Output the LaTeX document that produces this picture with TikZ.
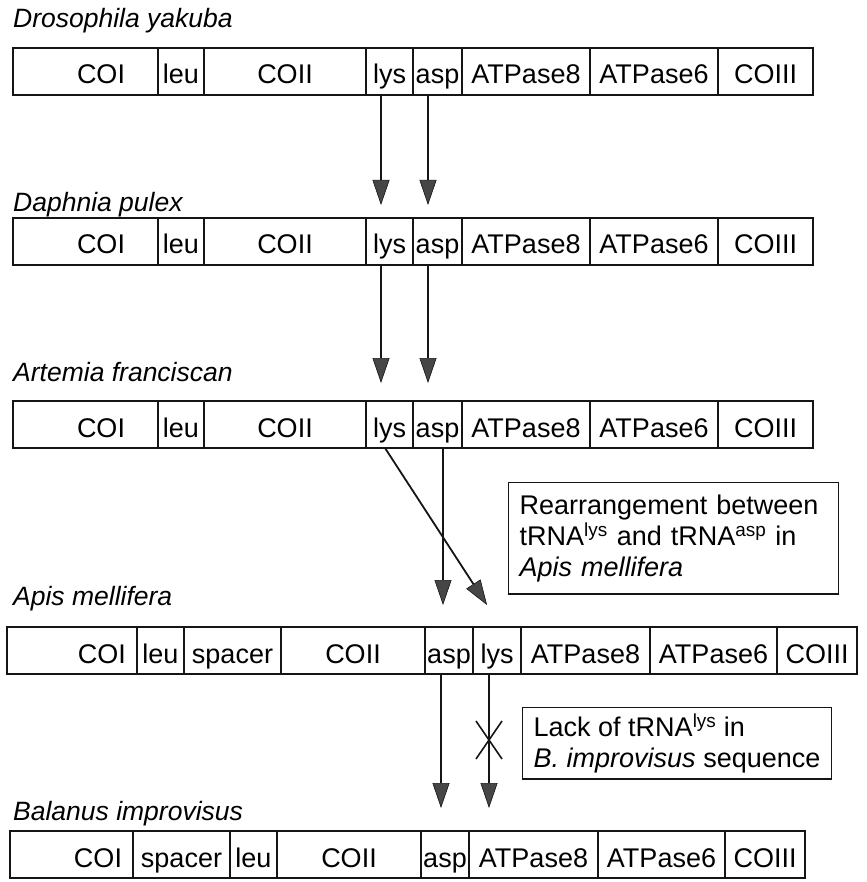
\documentclass[tikz,border=0pt]{standalone}
\usepackage{fontspec}
\setmainfont{Liberation Sans}
\usetikzlibrary{arrows.meta, positioning, calc}
\definecolor{ink}{HTML}{151515}
\definecolor{tipgray}{HTML}{464646}

\begin{document}
\begin{tikzpicture}[
  x=1pt, y=-1pt,
  cell/.style={draw=ink, line width=1.4pt, minimum height=47pt, inner sep=0pt, outer sep=0pt, anchor=west,
    text height=25pt, text depth=0pt, font=\fontsize{27}{29}\selectfont},
  species/.style={anchor=base west, inner sep=0pt, font=\fontsize{26.5}{29}\selectfont\itshape},
  note/.style={draw=ink, line width=1.4pt, align=left, anchor=north west, inner xsep=11pt, font=\fontsize{27}{31}\selectfont},
  move/.style={draw=ink, line width=1.8pt, -{Triangle[width=17pt, length=25pt, fill=tipgray, line width=0.6pt]}}
]
\useasboundingbox (0,0) rectangle (866,882);

% Drosophila yakuba
\node[species] (spD) at (13,28) {Drosophila yakuba};
\node[cell, minimum width=145, text width=79, align=right] (dCOI) at (13,71.5) {COI};
\node[cell, minimum width=46]  (dleu)  at (158,71.5) {leu};
\node[cell, minimum width=162] (dCOII) at (204,71.5) {COII};
\node[cell, minimum width=47]  (dlys)  at (366,71.5) {lys};
\node[cell, minimum width=49]  (dasp)  at (413,71.5) {asp};
\node[cell, minimum width=128] (dA8)   at (462,71.5) {ATPase8};
\node[cell, minimum width=128] (dA6)   at (590,71.5) {ATPase6};
\node[cell, minimum width=95]  (dCOIII) at (718,71.5) {COIII};

% Daphnia pulex
\node[species] (spP) at (13,212) {Daphnia pulex};
\node[cell, minimum width=145, text width=79, align=right] (pCOI) at (13,241.5) {COI};
\node[cell, minimum width=46]  (pleu)  at (158,241.5) {leu};
\node[cell, minimum width=162] (pCOII) at (204,241.5) {COII};
\node[cell, minimum width=47]  (plys)  at (366,241.5) {lys};
\node[cell, minimum width=49]  (pasp)  at (413,241.5) {asp};
\node[cell, minimum width=128] (pA8)   at (462,241.5) {ATPase8};
\node[cell, minimum width=128] (pA6)   at (590,241.5) {ATPase6};
\node[cell, minimum width=95]  (pCOIII) at (718,241.5) {COIII};

% Artemia franciscan
\node[species] (spA) at (13,381) {Artemia franciscan};
\node[cell, minimum width=145, text width=79, align=right] (aCOI) at (13,424.5) {COI};
\node[cell, minimum width=46]  (aleu)  at (158,424.5) {leu};
\node[cell, minimum width=162] (aCOII) at (204,424.5) {COII};
\node[cell, minimum width=47]  (alys)  at (366,424.5) {lys};
\node[cell, minimum width=49]  (aasp)  at (413,424.5) {asp};
\node[cell, minimum width=128] (aA8)   at (462,424.5) {ATPase8};
\node[cell, minimum width=128] (aA6)   at (590,424.5) {ATPase6};
\node[cell, minimum width=95]  (aCOIII) at (718,424.5) {COIII};

% Apis mellifera
\node[species] (spM) at (13,605) {Apis mellifera};
\node[cell, minimum width=130, text width=108, align=right] (mCOI) at (7,650.5) {COI};
\node[cell, minimum width=47]  (mleu)  at (137,650.5) {leu};
\node[cell, minimum width=97]  (mspc)  at (184,650.5) {spacer};
\node[cell, minimum width=144] (mCOII) at (281,650.5) {COII};
\node[cell, minimum width=48]  (masp)  at (425,650.5) {asp};
\node[cell, minimum width=48]  (mlys)  at (473,650.5) {lys};
\node[cell, minimum width=129] (mA8)   at (521,650.5) {ATPase8};
\node[cell, minimum width=127] (mA6)   at (650,650.5) {ATPase6};
\node[cell, minimum width=80]  (mCOIII) at (777,650.5) {COIII};

% Balanus improvisus
\node[species] (spB) at (13,820) {Balanus improvisus};
\node[cell, minimum width=123, text width=101, align=right] (bCOI) at (10,854.5) {COI};
\node[cell, minimum width=97]  (bspc)  at (133,854.5) {spacer};
\node[cell, minimum width=47]  (bleu)  at (230,854.5) {leu};
\node[cell, minimum width=144] (bCOII) at (277,854.5) {COII};
\node[cell, minimum width=48]  (basp)  at (421,854.5) {asp};
\node[cell, minimum width=129] (bA8)   at (469,854.5) {ATPase8};
\node[cell, minimum width=127] (bA6)   at (598,854.5) {ATPase6};
\node[cell, minimum width=80]  (bCOIII) at (725,854.5) {COIII};

% notes
\node[note, text width=308, inner ysep=12pt] (rearr) at (508,482)
  {Rearrangement between\\tRNA\textsuperscript{lys} and tRNA\textsuperscript{asp} in\\\textit{Apis mellifera}};
\node[note, inner ysep=6pt] (lack) at (522,707)
  {Lack of tRNA\textsuperscript{lys} in\\\textit{B. improvisus} sequence};

% arrow ends
\coordinate (t1lys) at (381,205);
\coordinate (t1asp) at (428,205);
\coordinate (t2lys) at (381,383);
\coordinate (t2asp) at (428,383);
\coordinate (t3asp) at (443,605);
\coordinate (t3lys) at (487,605);
\coordinate (t4asp) at (441,808);
\coordinate (t4lys) at (489,808);
\coordinate (cross) at (489,740);

\draw[move] (dlys.south -| t1lys) -- (t1lys);
\draw[move] (dasp.south -| t1asp) -- (t1asp);
\draw[move] (plys.south -| t2lys) -- (t2lys);
\draw[move] (pasp.south -| t2asp) -- (t2asp);
\draw[move] (aasp.south -| t3asp) -- (t3asp);
\draw[move] ($(alys.south west)+(19,0)$) -- (t3lys);
\draw[move] (masp.south -| t4asp) -- (t4asp);
\draw[move] (mlys.south -| t4lys) -- (t4lys);

% lost tRNA-lys
\draw[ink, line width=1.6pt] ($(cross)+(-13,-19)$) -- ($(cross)+(13,19)$)
  ($(cross)+(-13,19)$) -- ($(cross)+(13,-19)$);
\end{tikzpicture}
\end{document}
